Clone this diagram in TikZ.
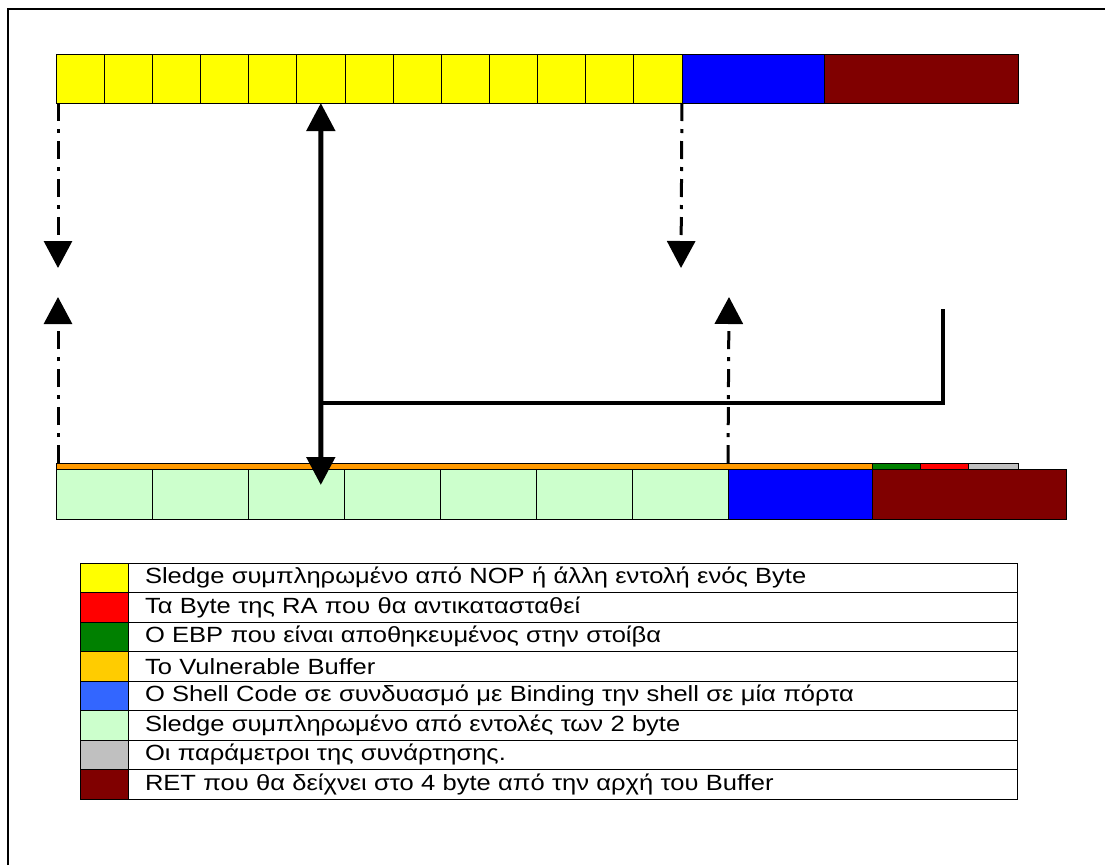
\documentclass[tikz,border=0pt]{standalone}
\usepackage{fontspec}
\setmainfont{Liberation Sans}
\newfontfamily\keyfont[FakeStretch=1.16]{Liberation Sans}
\usetikzlibrary{arrows.meta, positioning}

\definecolor{nopyellow}{HTML}{FFFF00}
\definecolor{shellblue}{HTML}{0000FF}
\definecolor{retred}{HTML}{800000}
\definecolor{sledgegreen}{HTML}{CCFFCC}
\definecolor{bufforange}{HTML}{FF9900}
\definecolor{ebpgreen}{HTML}{008000}
\definecolor{rared}{HTML}{FF0000}
\definecolor{pargray}{HTML}{C0C0C0}
\definecolor{keyorange}{HTML}{FFCC00}
\definecolor{keyblue}{HTML}{3366FF}

\begin{document}
\begin{tikzpicture}[
    x=1pt, y=-1pt,
    cell/.style={rectangle, draw, line width=0.8pt, inner sep=0pt, outer sep=0pt, anchor=north west, minimum height=49pt},
    strip/.style={rectangle, draw, line width=0.8pt, inner sep=0pt, outer sep=0pt, anchor=north west, minimum height=6pt},
    swatch/.style={rectangle, draw, line width=0.8pt, inner sep=0pt, outer sep=0pt, anchor=north west, minimum width=48pt, minimum height=29.5pt},
    keyrow/.style={rectangle, draw, line width=0.8pt, outer sep=0pt, inner ysep=0pt, inner xsep=17pt, text width=855pt, align=left, minimum height=29.5pt, font=\keyfont\fontsize{22}{24}\selectfont},
    dasharrow/.style={-{Triangle[width=28pt,length=27pt]}, line width=3pt, dash pattern=on 18pt off 8pt on 4pt off 8pt},
    bigarrow/.style={{Triangle[width=28pt,length=28pt]}-{Triangle[width=28pt,length=28pt]}, line width=5pt},
    link/.style={line width=4.5pt}
]
\useasboundingbox (0,0) rectangle (1105,865);

% frame
\draw[line width=1.5pt] (8,865) -- (8,9) -- (1105,9);

% upper stack
\foreach \i in {1,...,13}
  \node[cell, fill=nopyellow, minimum width=48.15pt] (y\i) at ({56+48.15*(\i-1)},54) {};
\node[cell, fill=shellblue, minimum width=142pt] (shellTop) at (682,54) {};
\node[cell, fill=retred, minimum width=194pt] (retTop) at (824,54) {};

% lower stack
\node[strip, fill=bufforange, minimum width=816pt] (buf) at (56,463) {};
\node[strip, fill=ebpgreen, minimum width=48pt] (ebp) at (872,463) {};
\node[strip, fill=rared, minimum width=48pt] (ra) at (920,463) {};
\node[strip, fill=pargray, minimum width=50pt] (par) at (968,463) {};
\foreach \i in {1,...,7}
  \node[cell, fill=sledgegreen, minimum width=96pt, minimum height=50pt] (g\i) at ({56+96*(\i-1)},469) {};
\node[cell, fill=shellblue, minimum width=144pt, minimum height=50pt] (shellBot) at (728,469) {};
\node[cell, fill=retred, minimum width=194pt, minimum height=50pt] (retBot) at (872,469) {};

% arrow ends
\coordinate (leftDown) at (58,268);
\coordinate (leftUp) at (58,297);
\coordinate (rightDown) at (681,268);
\coordinate (rightUp) at (729,297);
\coordinate (bigTip) at (320.8,485);
\coordinate (bend) at (943,403);
\coordinate (hook) at (943,309);

% dash-dot arrows
\draw[dasharrow] ([xshift=2pt]y1.south west) -- (leftDown);
\draw[dasharrow] (y13.south east) -- (rightDown);
\draw[dasharrow] ([xshift=2pt]buf.north west) -- (leftUp);
\draw[dasharrow] (g7.north east |- buf.north) -- (rightUp);

% jump arrow
\draw[bigarrow] (y6.south) -- (bigTip);
\draw[link] (y6.south |- bend) -- (bend) -- (hook);

% legend
\foreach \c/\t [count=\k from 0] in {
    nopyellow/{Sledge συμπληρωμένο από NOP ή άλλη εντολή ενός Byte},
    rared/{Τα Byte της RA που θα αντικατασταθεί},
    ebpgreen/{Ο EBP που είναι αποθηκευμένος στην στοίβα},
    keyorange/{Το Vulnerable Buffer},
    keyblue/{Ο Shell Code σε συνδυασμό με Binding την shell σε μία πόρτα},
    sledgegreen/{Sledge συμπληρωμένο από εντολές των 2 byte},
    pargray/{Οι παράμετροι της συνάρτησης.},
    retred/{RET που θα δείχνει στο 4 byte από την αρχή του Buffer}} {
  \node[swatch, fill=\c] (sw\k) at (80,{563+29.5*\k}) {};
  \node[keyrow, right=0pt of sw\k] (key\k) {\t};
}
\end{tikzpicture}
\end{document}
